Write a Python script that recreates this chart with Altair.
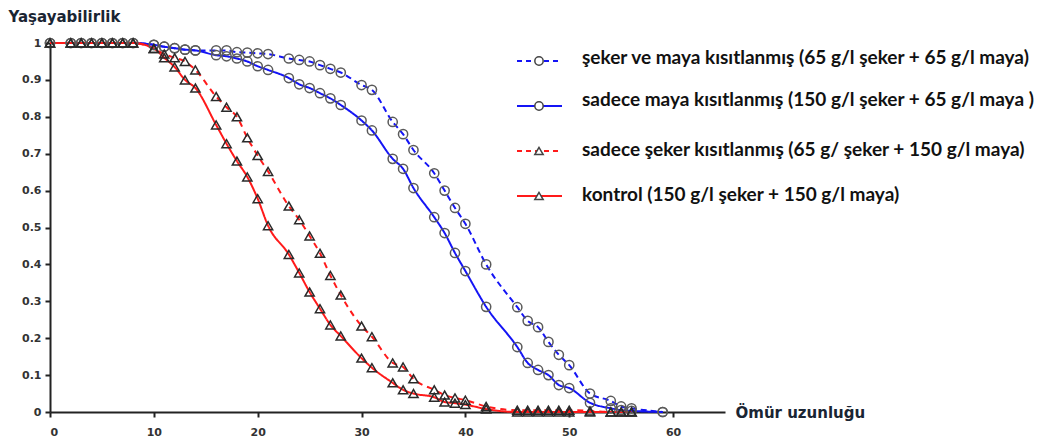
import altair as alt
import pandas as pd

# ---- data ----
series_names = [
    "şeker ve maya kısıtlanmış",
    "sadece maya kısıtlanmış",
    "sadece şeker kısıtlanmış",
    "kontrol",
]
legend_labels = [
    "şeker ve maya kısıtlanmış (65 g/l şeker + 65 g/l maya)",
    "sadece maya kısıtlanmış (150 g/l  şeker + 65 g/l maya )",
    "sadece şeker kısıtlanmış (65 g/ şeker + 150 g/l maya)",
    "kontrol (150 g/l şeker + 150 g/l maya)",
]

days_blue = [0, 2, 3, 4, 5, 6, 7, 8, 10, 11, 12, 13, 14, 16, 17, 18, 19, 20, 21,
             23, 24, 25, 26, 27, 28, 30, 31, 33, 34, 35, 37, 38, 39, 40, 42,
             45, 46, 47, 48, 49, 50, 52, 54, 55, 56, 59]
days_red = [0, 2, 3, 4, 5, 6, 7, 8, 10, 11, 12, 13, 14, 16, 17, 18, 19, 20, 21,
            23, 24, 25, 26, 27, 28, 30, 31, 33, 34, 35, 37, 38, 39, 40, 42,
            45, 46, 47, 48, 49, 50, 52, 54, 55, 56]

seker_maya = [1, 1, 1, 1, 1, 1, 1, 1,
              0.995, 0.99, 0.986, 0.982, 0.98,
              0.98, 0.98, 0.975, 0.974, 0.972, 0.97,
              0.958, 0.954, 0.95, 0.94, 0.93, 0.92,
              0.886, 0.873,
              0.786, 0.753, 0.71,
              0.647, 0.60, 0.553, 0.51,
              0.40,
              0.284, 0.247, 0.23, 0.19, 0.155, 0.127,
              0.05,
              0.03, 0.015, 0.01,
              0.0]
sadece_maya = [1, 1, 1, 1, 1, 1, 1, 1,
               0.995, 0.99, 0.986, 0.982, 0.98,
               0.967, 0.964, 0.958, 0.95, 0.937, 0.927,
               0.905, 0.888, 0.878, 0.864, 0.85, 0.832,
               0.79, 0.763,
               0.686, 0.659, 0.607,
               0.528, 0.485, 0.431, 0.382,
               0.285,
               0.176, 0.133, 0.114, 0.10, 0.073, 0.065,
               0.025,
               0.01, 0.005, 0.003,
               0.0]
sadece_seker = [1, 1, 1, 1, 1, 1, 1, 1,
                0.985, 0.97, 0.96, 0.95, 0.927,
                0.855, 0.826, 0.80, 0.743, 0.695, 0.652,
                0.558, 0.521, 0.477, 0.43, 0.37, 0.317,
                0.233, 0.204,
                0.133, 0.122, 0.09,
                0.06, 0.046, 0.038, 0.032,
                0.015,
                0.005, 0.005, 0.005, 0.005, 0.005, 0.005,
                0.003,
                0.0, 0.0, 0.0]
kontrol = [1, 1, 1, 1, 1, 1, 1, 1,
           0.985, 0.96, 0.935, 0.90, 0.878,
           0.778, 0.727, 0.68, 0.637, 0.578, 0.505,
           0.427, 0.377, 0.325, 0.28, 0.236, 0.206,
           0.146, 0.12,
           0.079, 0.06, 0.05,
           0.04, 0.027, 0.024, 0.02,
           0.008,
           0.0, 0.0, 0.0, 0.0, 0.0, 0.0,
           0.0,
           0.0, 0.0, 0.0]

x_ticks = [0, 10, 20, 30, 40, 50, 60]
y_ticks = [round(i * 0.1, 1) for i in range(11)]

# ---- styling ----
colors = ["#1414f5", "#1414f5", "#ff1a1a", "#ff1a1a"]
dashes = [[6, 4], [1, 0], [6, 5], [1, 0]]
shapes = ["circle", "circle", "triangle-up", "triangle-up"]
mcolors = ["#5a5a5a", "#5a5a5a", "#2a2a2a", "#2a2a2a"]

rows = []
for name, days, vals in [
    (series_names[0], days_blue, seker_maya),
    (series_names[1], days_blue, sadece_maya),
    (series_names[2], days_red, sadece_seker),
    (series_names[3], days_red, kontrol),
]:
    for d, v in zip(days, vals):
        rows.append({"series": name, "day": d, "value": v})
df = pd.DataFrame(rows)

W, H = 675, 369
x_enc = alt.X(
    "day:Q",
    scale=alt.Scale(domain=[0, 65], nice=False, zero=False),
    axis=alt.Axis(
        values=x_ticks, title="Ömür uzunluğu", titleX=685, titleY=0,
        titleAlign="left", titleBaseline="middle", titleFont="DejaVu Sans",
        titleFontSize=15, titleFontWeight="bold", titleColor="#1a2533",
        labelFont="DejaVu Sans", labelFontSize=11, labelFontWeight="bold",
        labelColor="#333333", labelPadding=9, tickSize=5, tickWidth=2,
        tickColor="#222222", domainColor="#222222", domainWidth=2, grid=False,
        labelOverlap=False,
    ),
)
y_enc = alt.Y(
    "value:Q",
    scale=alt.Scale(domain=[0, 1], nice=False),
    axis=alt.Axis(
        values=y_ticks, format="~g", title="Yaşayabilirlik", titleAngle=0,
        titleX=-42, titleY=-27, titleAlign="left", titleBaseline="middle",
        titleFont="DejaVu Sans", titleFontSize=15, titleFontWeight="bold",
        titleColor="#1a2533",
        labelFont="DejaVu Sans", labelFontSize=11, labelFontWeight="bold",
        labelColor="#333333", labelPadding=4, tickSize=5, tickWidth=2,
        tickColor="#222222", domainColor="#222222", domainWidth=2, grid=False,
        labelOverlap=False, tickCount=11,
    ),
)

base = alt.Chart(df)
lines = base.mark_line(strokeWidth=2, interpolate="monotone").encode(
    x=x_enc, y=y_enc,
    color=alt.Color("series:N", scale=alt.Scale(domain=series_names, range=colors), legend=None),
    strokeDash=alt.StrokeDash("series:N", scale=alt.Scale(domain=series_names, range=dashes), legend=None),
    detail="series:N",
)
points = base.mark_point(filled=False, fill=None, strokeWidth=1.5, opacity=1).encode(
    x="day:Q", y="value:Q",
    shape=alt.Shape("series:N", scale=alt.Scale(domain=series_names, range=shapes), legend=None),
    stroke=alt.Stroke("series:N", scale=alt.Scale(domain=series_names, range=mcolors), legend=None),
    size=alt.Size("series:N", scale=alt.Scale(domain=series_names, range=[85, 85, 95, 95]), legend=None),
)

# ---- manual legend (pixel offsets relative to plot area) ----
leg_df = pd.DataFrame({"k": [0]})
leg_line_y = [18, 63, 108, 153]
leg_text_y = [15, 57, 107, 152]
leg_layers = []
for i in range(4):
    lc = alt.Chart(leg_df)
    leg_layers.append(
        lc.mark_rule(color=colors[i], strokeWidth=2,
                     strokeDash=[5, 4] if i in (0, 2) else [1, 0]).encode(
            x=alt.value(467), x2=alt.value(512), y=alt.value(leg_line_y[i]))
    )
    leg_layers.append(
        lc.mark_point(shape=shapes[i], filled=True, fill="white", stroke="#444444",
                      strokeWidth=1.5, size=70, opacity=1).encode(
            x=alt.value(489), y=alt.value(leg_line_y[i]))
    )
    leg_layers.append(
        lc.mark_text(align="left", baseline="middle", font="Lato", fontSize=19,
                     fontWeight="bold", color="#111111").encode(
            x=alt.value(532), y=alt.value(leg_text_y[i]), text=alt.value(legend_labels[i]))
    )

chart = alt.layer(lines, points, *leg_layers).resolve_scale(
    color="independent", stroke="independent"
).properties(
    width=W, height=H,
    padding={"left": 50, "top": 43, "right": 1046 - 50 - W, "bottom": 443 - 43 - H},
    autosize=alt.AutoSizeParams(type="none"),
).configure(background="white").configure_view(stroke=None, strokeWidth=0)

chart.save("out.html", embed_options={"renderer": "svg", "actions": False})
